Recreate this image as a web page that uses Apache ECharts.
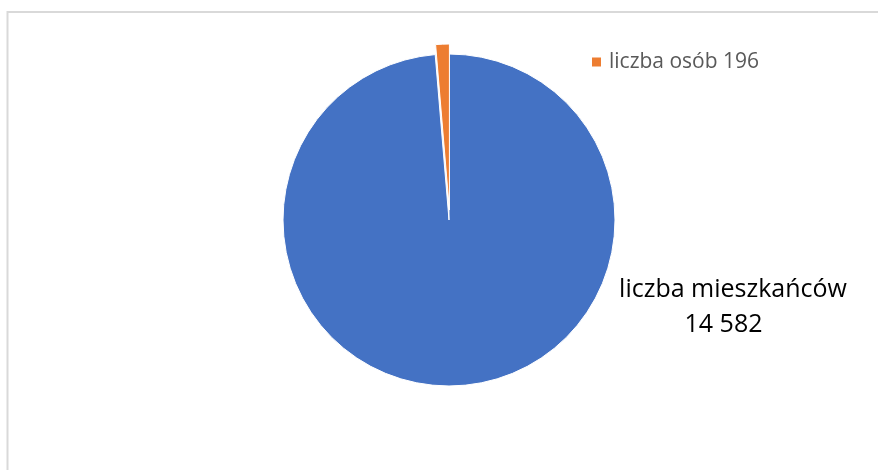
<!DOCTYPE html>
<html>
<head>
<meta charset="utf-8">
<script src="https://cdn.jsdelivr.net/npm/echarts@6/dist/echarts.min.js"></script>
<style>
  html, body { margin: 0; padding: 0; background: #fff; }
  #chart { width: 878px; height: 470px; }
</style>
</head>
<body>
<div id="chart"></div>
<script>
const categories = ['liczba mieszkańców', 'liczba osób'];
const values = [14582, 196];
const palette = ['#4472C4', '#ED7D31'];

function fmt(n) {
  return String(n).replace(/\B(?=(\d{3})+(?!\d))/g, ' ');
}

const cx = 449, cy = 220, R = 166, explode = 10;

// explode direction of the small slice (mid-angle), from the data
const total = values.reduce(function (a, b) { return a + b; }, 0);
const startDeg = 90;
const midDeg = startDeg + 360 * (values[0] + values[1] / 2) / total; // clockwise from top
const midRad = midDeg * Math.PI / 180;
const ox = cx + explode * Math.cos(midRad);
const oy = cy - explode * Math.sin(midRad);

const chart = echarts.init(document.getElementById('chart'), null, { renderer: 'canvas' });

function makeData(showIndex) {
  return categories.map(function (name, i) {
    const vis = i === showIndex;
    return {
      name: name,
      value: values[i],
      itemStyle: vis ? { color: palette[i], borderColor: '#fff', borderWidth: 1 }
                     : { color: 'rgba(0,0,0,0)', borderWidth: 0 },
      label: { show: vis },
      tooltip: { show: false }
    };
  });
}

const option = {
  animation: false,
  backgroundColor: '#fff',
  graphic: [{
    type: 'rect',
    shape: { x: 7.5, y: 12, width: 1000, height: 1000 },
    style: { fill: 'none', stroke: '#d9d9d9', lineWidth: 2 },
    silent: true
  }],
  series: [{
    type: 'pie',
    center: [cx, cy],
    radius: R,
    startAngle: startDeg,
    clockwise: true,
    avoidLabelOverlap: false,
    silent: true,
    emphasis: { disabled: true },
    labelLine: { show: false },
    label: {
      position: 'outside',
      formatter: function (p) { return '{a|' + p.name + '}\n{b|' + fmt(p.value) + '}'; },
      align: 'center',
      rich: {
        a: { fontFamily: 'Open Sans', fontSize: 25, lineHeight: 35, color: '#000' },
        b: { fontFamily: 'Open Sans', fontSize: 25, lineHeight: 35, color: '#000', padding: [0, 19, 0, 0] }
      }
    },
    labelLayout: function () {
      return { x: 733, y: 307, align: 'center', verticalAlign: 'middle' };
    },
    data: makeData(0)
  }, {
    type: 'pie',
    center: [ox, oy],
    radius: R,
    startAngle: startDeg,
    clockwise: true,
    avoidLabelOverlap: false,
    silent: true,
    emphasis: { disabled: true },
    labelLine: { show: false },
    label: {
      position: 'outside',
      formatter: function (p) { return '{m|}{t|' + p.name + ' ' + fmt(p.value) + '}'; },
      rich: {
        m: { width: 9, height: 9, backgroundColor: palette[1] },
        t: { fontSize: 21, color: '#595959', fontFamily: 'Open Sans', padding: [0, 0, 0, 8] }
      }
    },
    labelLayout: function () {
      return { x: 592, y: 62, align: 'left', verticalAlign: 'middle' };
    },
    data: makeData(1)
  }]
};

chart.setOption(option);
</script>
</body>
</html>
